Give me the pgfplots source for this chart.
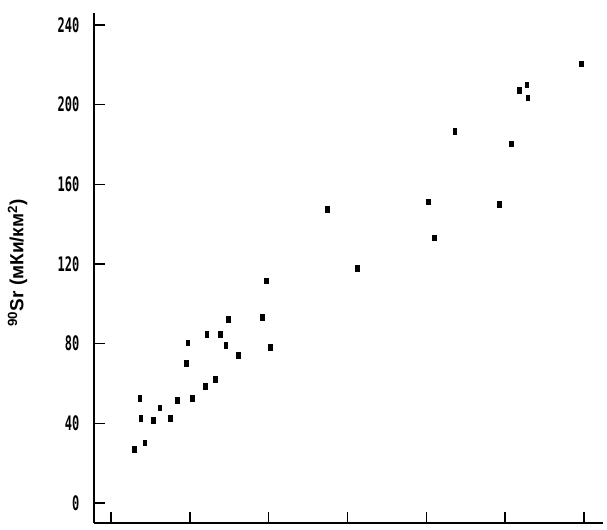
\documentclass[border=0pt]{standalone}
\usepackage{pgfplots}
\pgfplotsset{compat=1.18}
\usepackage{fontspec}
\setmainfont{Liberation Sans}
\newfontfamily\tickfont{DejaVu Sans Mono}

\begin{document}
\begin{tikzpicture}
\begin{axis}[
    scale only axis,
    width=509pt, height=510pt,
    xmin=-2.15, xmax=62.4,
    ymin=-10, ymax=246,
    axis x line*=bottom,
    axis y line*=left,
    axis line style={line width=1.5pt},
    tick style={line width=1.5pt, black},
    tick align=inside,
    major tick length=11pt,
    xtick={0,10,20,30,40,50,60},
    xticklabels={},
    ytick={0,40,80,120,160,200,240},
    /pgf/number format/assume math mode=true,
    yticklabel style={font=\tickfont\bfseries\fontsize{20}{20}\selectfont, xscale=0.6, xshift=-21pt},
    ylabel={\bfseries\textsuperscript{90}Sr (мКи/км\textsuperscript{2})},
    ylabel style={at={(axis description cs:-0.15,0.51)}, anchor=center,
        font=\fontsize{19}{19}\selectfont},
]
% 90Sr points (x axis unlabeled in the source)
\addplot[only marks, mark=square*, mark size=2.1pt,
    mark options={xscale=0.9, yscale=1.3, fill=black, draw=black}]
    coordinates {
        (59.66,220.6) (52.72,209.9) (51.75,207.2) (52.85,203.6)
        (43.60,186.7) (50.73,180.3) (40.22,151.2) (49.26,150.0)
        (27.41,147.4) (40.98,133.3) (31.22,117.8) (19.73,111.5)
        (14.87,92.2) (19.18,93.2) (12.13,84.8) (13.90,84.8)
        (9.72,80.6) (14.54,79.3) (20.15,78.3) (16.13,74.3)
        (9.54,70.2) (13.22,62.1) (11.91,58.7) (10.35,52.7)
        (8.43,51.6) (3.65,52.6) (6.19,47.8) (3.78,42.5)
        (5.36,41.5) (7.48,42.5) (4.27,30.3) (2.98,27.1)
    };
\end{axis}
\path ([shift={(-94pt,-7pt)}]current axis.south west) rectangle ([shift={(4pt,13pt)}]current axis.north east);
\end{tikzpicture}
\end{document}
